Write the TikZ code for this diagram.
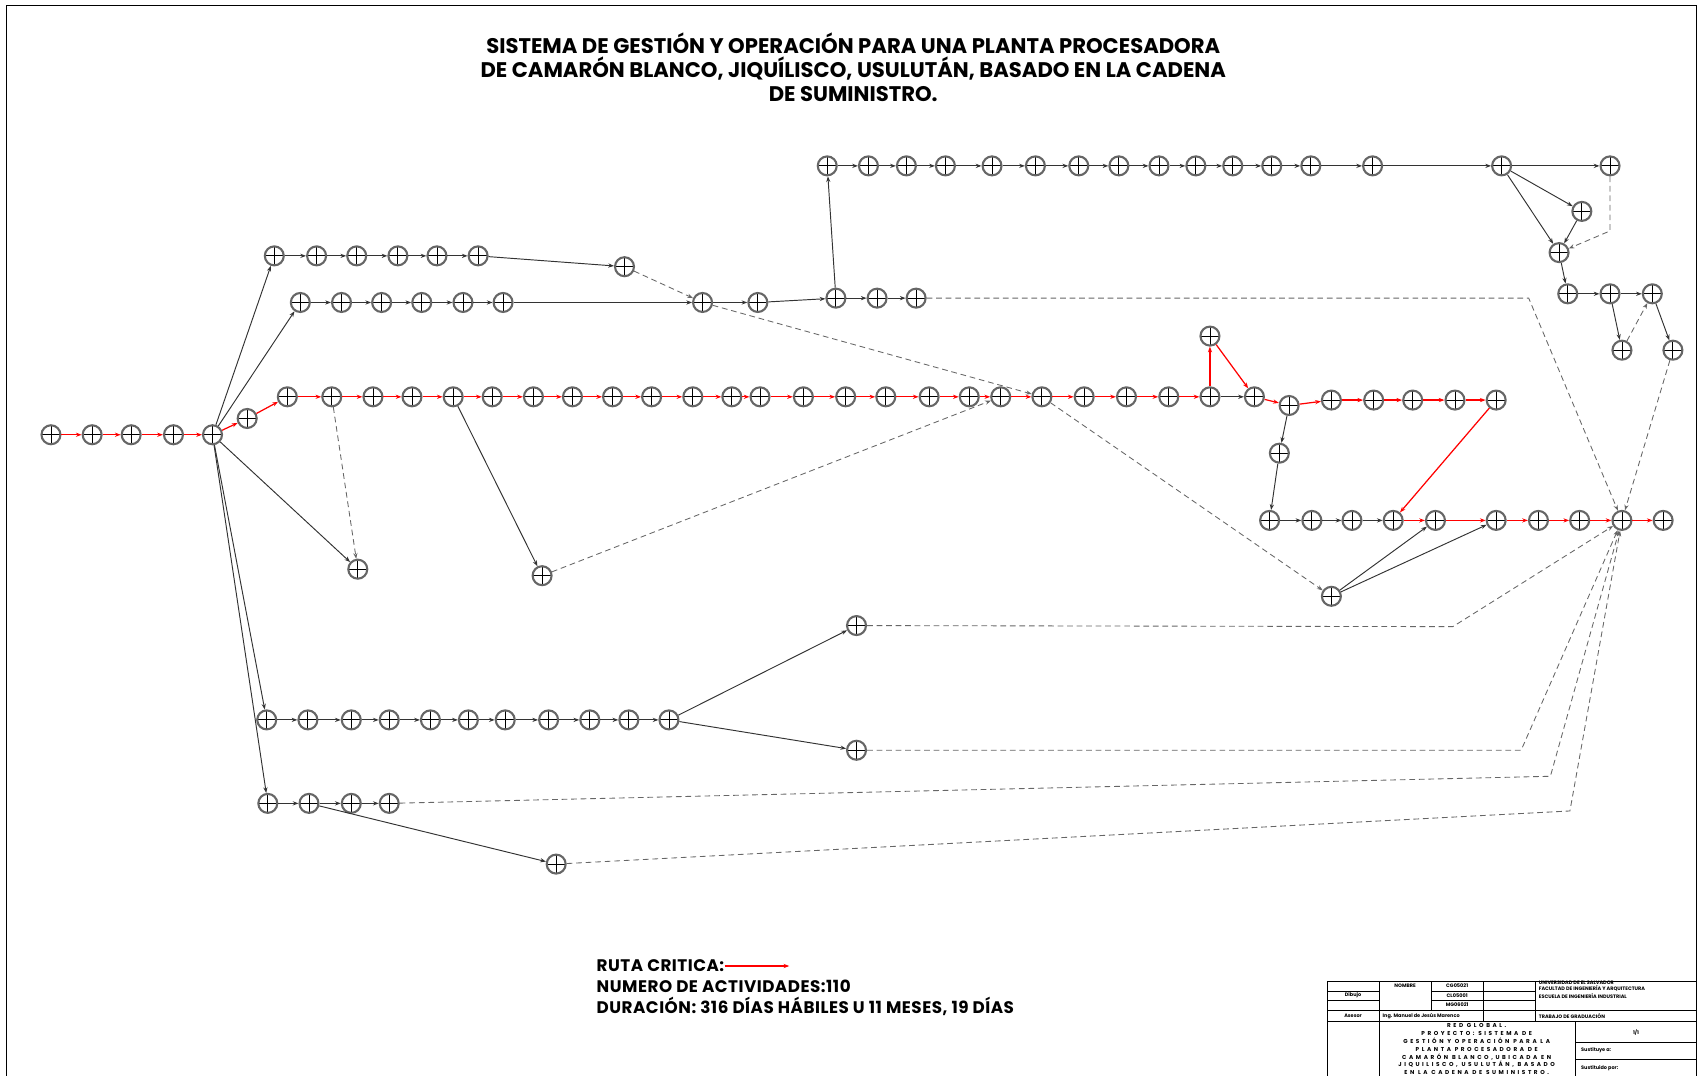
\documentclass[tikz,border=0pt]{standalone}
\usepackage{fontspec}
\setmainfont{Poppins}
\usetikzlibrary{arrows.meta}

\begin{document}
\begin{tikzpicture}
	[x=0.2mm,y=-0.2mm,
	evento/.style={circle,draw=black!60,line width=1.1pt,fill=white,inner sep=0pt,minimum size=3.5mm,
		path picture={\draw[black,line width=0.45pt]
			(path picture bounding box.west) -- (path picture bounding box.east)
			(path picture bounding box.north) -- (path picture bounding box.south);}},
	act/.style={draw=black!80,line width=0.5pt,-{Stealth[length=3pt,width=2.2pt]}},
	critica/.style={draw=red,line width=0.65pt,-{Stealth[length=3pt,width=2.2pt]}},
	ficticia/.style={draw=black!60,line width=0.45pt,densely dashed,-{Stealth[length=3pt,width=2.2pt]}},
	texto/.style={inner sep=0pt,font=\bfseries\fontsize{8.8}{10}\selectfont\addfontfeature{LetterSpace=3}},
	cajetin/.style={inner sep=0pt,font=\bfseries\fontsize{2.6}{3}\selectfont}]
	\useasboundingbox (0,0) rectangle (1568,992);
	% marco de la hoja
	\draw[line width=0.5pt] (6,992) -- (6,5) -- (1565,5) -- (1565,992);
	\node[align=center,inner sep=0pt,font=\bfseries\fontsize{11.1}{12.6}\selectfont] (titulo) at (787,62)
		{SISTEMA DE GESTIÓN Y OPERACIÓN PARA UNA PLANTA PROCESADORA\\
		 DE CAMARÓN BLANCO, JIQUÍLISCO, USULUTÁN, BASADO EN LA CADENA\\
		 DE SUMINISTRO.};
	% eventos
	\foreach \x [count=\i] in {47,85,121,160,196}
		\node[evento] (s\i) at (\x,401) {};
	\node[evento] (c0) at (228,386) {};
	\foreach \x [count=\i] in {265,306,344,380,418,454,492,528,565,601,639,675,701,741,780,817,857,894,923,961,1000,1039,1078,1116,1157}
		\node[evento] (m\i) at (\x,366) {};
	\node[evento] (u) at (1116,310) {};
	\node[evento] (n1) at (1189,374) {};
	\foreach \x [count=\i from 2] in {1228,1267,1303,1342,1380}
		\node[evento] (n\i) at (\x,369) {};
	\node[evento] (v1) at (1180,418) {};
	\foreach \x [count=\i] in {1171,1210,1247,1285,1324,1380,1419,1457,1496,1534}
		\node[evento] (b\i) at (\x,480) {};
	\node[evento] (w) at (1228,550) {};
	\node[evento] (p1) at (330,525) {};
	\node[evento] (p2) at (500,531) {};
	\foreach \x [count=\i] in {253,292,329,367,403,441}
		\node[evento] (a\i) at (\x,236) {};
	\node[evento] (a7) at (576,246) {};
	\foreach \x [count=\i] in {277,315,352,389,427,464,648,699}
		\node[evento] (t\i) at (\x,279) {};
	\foreach \x [count=\i from 9] in {771,809,845}
		\node[evento] (t\i) at (\x,275) {};
	\foreach \x [count=\i] in {763,801,836,872,915,955,995,1032,1069,1103,1137,1173,1209,1266,1385,1485}
		\node[evento] (k\i) at (\x,153) {};
	\node[evento] (k17) at (1459,195) {};
	\node[evento] (k18) at (1438,233) {};
	\foreach \x [count=\i] in {1446,1485,1524}
		\node[evento] (q\i) at (\x,271) {};
	\node[evento] (q4) at (1496,323) {};
	\node[evento] (q5) at (1543,323) {};
	\foreach \x [count=\i] in {246,284,324,359,397,432,466,506,544,580,617}
		\node[evento] (e\i) at (\x,664) {};
	\node[evento] (e12) at (790,577) {};
	\node[evento] (e13) at (790,692) {};
	\foreach \x [count=\i] in {247,285,324,359}
		\node[evento] (f\i) at (\x,741) {};
	\node[evento] (f5) at (513,797) {};
	% quiebres de las ficticias
	\coordinate (d1) at (1410,275);
	\coordinate (d2) at (1485,213);
	\coordinate (d3) at (1340,578);
	\coordinate (d4) at (1403,692);
	\coordinate (d5) at (1430,716);
	\coordinate (d6) at (1448,748);
	% ruta critica
	\foreach \i [remember=\i as \j (initially 1)] in {2,...,5}
		\draw[critica] (s\j) -- (s\i);
	\draw[critica] (s5) -- (c0);
	\draw[critica] (c0) -- (m1);
	\foreach \i [remember=\i as \j (initially 1)] in {2,...,24}
		\draw[critica] (m\j) -- (m\i);
	\draw[critica] (m24) -- (u);
	\draw[critica] (u) -- (m25);
	\draw[critica] (m25) -- (n1);
	\foreach \i [remember=\i as \j (initially 1)] in {2,...,6}
		\draw[critica] (n\j) -- (n\i);
	\draw[critica] (n6) -- (b4);
	\foreach \i [remember=\i as \j (initially 4)] in {5,...,10}
		\draw[critica] (b\j) -- (b\i);
	% actividades con holgura
	\draw[act] (m24) -- (m25);
	\draw[act] (n1) -- (v1);
	\draw[act] (v1) -- (b1);
	\foreach \i [remember=\i as \j (initially 1)] in {2,...,4}
		\draw[act] (b\j) -- (b\i);
	\draw[act] (s5) -- (a1);
	\foreach \i [remember=\i as \j (initially 1)] in {2,...,7}
		\draw[act] (a\j) -- (a\i);
	\draw[act] (s5) -- (t1);
	\foreach \i [remember=\i as \j (initially 1)] in {2,...,11}
		\draw[act] (t\j) -- (t\i);
	\draw[act] (t9) -- (k1);
	\foreach \i [remember=\i as \j (initially 1)] in {2,...,16}
		\draw[act] (k\j) -- (k\i);
	\draw[act] (k15) -- (k17);
	\draw[act] (k15) -- (k18);
	\draw[act] (k17) -- (k18);
	\draw[act] (k18) -- (q1);
	\draw[act] (q1) -- (q2);
	\draw[act] (q2) -- (q3);
	\draw[act] (q2) -- (q4);
	\draw[act] (q3) -- (q5);
	\draw[act] (s5) -- (p1);
	\draw[act] (m5) -- (p2);
	\draw[act] (s5) -- (e1);
	\foreach \i [remember=\i as \j (initially 1)] in {2,...,11}
		\draw[act] (e\j) -- (e\i);
	\draw[act] (e11) -- (e12);
	\draw[act] (e11) -- (e13);
	\draw[act] (s5) -- (f1);
	\foreach \i [remember=\i as \j (initially 1)] in {2,...,4}
		\draw[act] (f\j) -- (f\i);
	\draw[act] (f2) -- (f5);
	\draw[act] (w) -- (b5);
	\draw[act] (w) -- (b6);
	% ficticias
	\draw[ficticia] (a7) -- (t7);
	\draw[ficticia] (t7) -- (m20);
	\draw[ficticia] (m20) -- (w);
	\draw[ficticia] (m2) -- (p1);
	\draw[ficticia] (p2) -- (m19);
	\draw[ficticia] (k16) -- (d2) -- (k18);
	\draw[ficticia] (q4) -- (q3);
	\draw[ficticia] (q5) -- (b9);
	\draw[ficticia] (t11) -- (d1) -- (b9);
	\draw[ficticia] (e12) -- (d3) -- (b9);
	\draw[ficticia] (e13) -- (d4) -- (b9);
	\draw[ficticia] (f4) -- (d5) -- (b9);
	\draw[ficticia] (f5) -- (d6) -- (b9);
	% leyenda
	\node[texto,anchor=west] (ruta) at (550,891) {RUTA CRITICA:};
	\node[texto,anchor=west] (nact) at (550,910) {NUMERO DE ACTIVIDADES:110};
	\node[texto,anchor=west] (dur) at (550,928) {DURACIÓN: 316 DÍAS HÁBILES U 11 MESES, 19 DÍAS};
	\coordinate (rutafin) at (728,891);
	\draw[critica] (ruta.east) -- (rutafin);
	% cajetin
	\draw[line width=0.4pt] (1224,992) -- (1224,905) -- (1565,905);
	\draw[line width=0.4pt] (1224,942) -- (1565,942);
	\foreach \y in {914,923,932} {
		\draw[line width=0.4pt] (1224,\y) -- (1272,\y);
		\draw[line width=0.4pt] (1320,\y) -- (1416,\y);
	}
	\draw[line width=0.4pt] (1272,932) -- (1320,932);
	\draw[line width=0.4pt] (1416,932) -- (1565,932);
	\draw[line width=0.4pt] (1272,905) -- (1272,992);
	\draw[line width=0.4pt] (1320,905) -- (1320,932);
	\draw[line width=0.4pt] (1368,905) -- (1368,942);
	\draw[line width=0.4pt] (1416,905) -- (1416,942);
	\draw[line width=0.4pt] (1453,942) -- (1453,992);
	\draw[line width=0.4pt] (1453,961) -- (1565,961);
	\draw[line width=0.4pt] (1453,977) -- (1565,977);
	\node[cajetin] (nom) at (1296,909) {NOMBRE};
	\node[cajetin] (car1) at (1344,909) {CG05021};
	\node[cajetin] (car2) at (1344,918) {CL05001};
	\node[cajetin] (car3) at (1344,927) {MG06021};
	\node[cajetin] (dib) at (1248,918) {Dibujo};
	\node[cajetin] (ase) at (1248,937) {Asesor};
	\node[cajetin,anchor=west] (ing) at (1275,937) {Ing. Manuel de Jesús Marenco};
	\node[cajetin,anchor=west,align=left] (ues) at (1419,913)
		{UNIVERSIDAD DE EL SALVADOR\\FACULTAD DE INGENIERÍA Y ARQUITECTURA\\[1pt]ESCUELA DE INGENIERÍA INDUSTRIAL};
	\node[cajetin,anchor=west] (tg) at (1419,937) {TRABAJO DE GRADUACIÓN};
	\node[cajetin,align=center,anchor=north,font=\bfseries\fontsize{3}{4.1}\selectfont\addfontfeature{LetterSpace=45}] (red) at (1362,944)
		{RED GLOBAL.\\PROYECTO: SISTEMA DE\\GESTIÓN Y OPERACIÓN PARA LA\\PLANTA PROCESADORA DE\\CAMARÓN BLANCO,UBICADA EN\\JIQUILISCO, USULUTÁN, BASADO\\EN LA CADENA DE SUMINISTRO.};
	\node[cajetin] (hoja) at (1509,952) {1/1};
	\node[cajetin,anchor=west] (sus) at (1458,969) {Sustituye a:};
	\node[cajetin,anchor=west] (sup) at (1458,985) {Sustituido por:};
\end{tikzpicture}
\end{document}
